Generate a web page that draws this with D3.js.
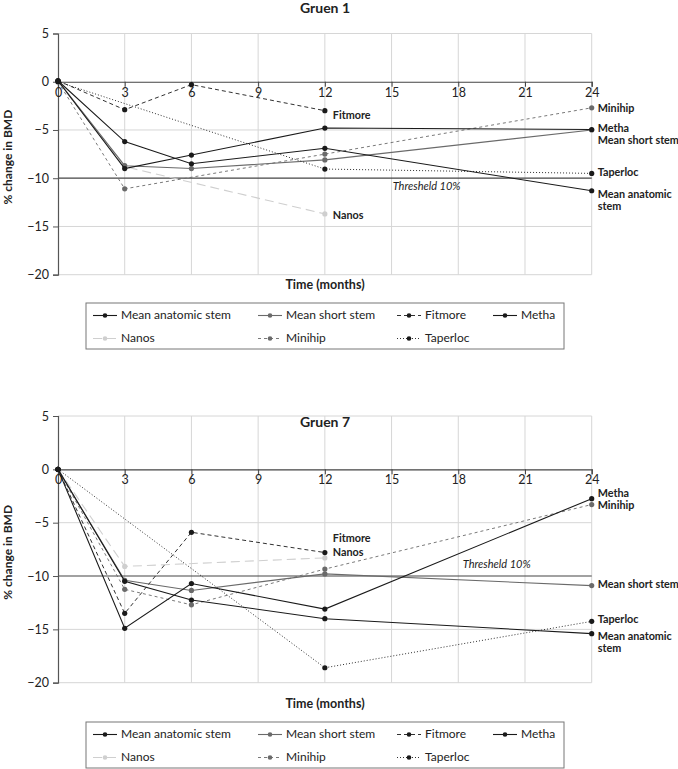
<!DOCTYPE html>
<html><head><meta charset="utf-8">
<script src="https://cdn.jsdelivr.net/npm/d3@7"></script>
<style>
body{margin:0;background:#fff;}
svg{display:block;font-family:Lato,"Noto Sans",sans-serif;}
</style></head><body>
<svg id="c" width="678" height="769"></svg>
<script>
// ---- data ----
const timepoints = [0, 3, 6, 12, 24];
const xTicks = [0, 3, 6, 9, 12, 15, 18, 21, 24];
const yTicks = [5, 0, -5, -10, -15, -20];
const seriesNames = ["Mean anatomic stem", "Mean short stem", "Fitmore", "Metha", "Nanos", "Minihip", "Taperloc"];
const threshold = -10;

// Gruen 1
const g1MeanAnatomic = [0.1, -6.2, -8.5, -6.9, -11.3];
const g1MeanShort    = [0.1, -8.7, -9.0, -8.1, -5.0];
const g1Fitmore      = [0.1, -2.9, -0.3, -3.0, null];
const g1Metha        = [0.1, -9.0, -7.6, -4.8, -4.95];
const g1Nanos        = [0, -8.8, null, -13.7, null];
const g1Minihip      = [0, -11.1, null, -7.5, -2.7];
const g1Taperloc     = [0, null, null, -9.05, -9.5];

// Gruen 7
const g7MeanAnatomic = [0, -10.5, -12.25, -14.0, -15.4];
const g7MeanShort    = [0, -10.4, -11.35, -9.8, -10.9];
const g7Fitmore      = [0, -13.5, -5.9, -7.8, null];
const g7Metha        = [0, -14.9, -10.7, -13.1, -2.75];
const g7Nanos        = [0, -9.1, null, -8.3, null];
const g7Minihip      = [0, -11.25, -12.7, -9.35, -3.3];
const g7Taperloc     = [0, null, null, -18.6, -14.25];

// ---- styles ----
const styles = {
  "Mean anatomic stem": {stroke:"#1a1a1a", dot:"#1a1a1a", dash:null, w:1.1},
  "Mean short stem":    {stroke:"#6a6a6a", dot:"#6a6a6a", dash:null, w:1.1},
  "Fitmore":            {stroke:"#1a1a1a", dot:"#1a1a1a", dash:"4,3", w:0.9},
  "Metha":              {stroke:"#1a1a1a", dot:"#1a1a1a", dash:null, w:1.1},
  "Nanos":              {stroke:"#cfcfcf", dot:"#cfcfcf", dash:"9,5", w:1.1},
  "Minihip":            {stroke:"#6a6a6a", dot:"#6a6a6a", dash:"3,3", w:0.9},
  "Taperloc":           {stroke:"#1a1a1a", dot:"#1a1a1a", dash:"1,2", w:0.9}
};
const drawOrder = ["Nanos", "Minihip", "Mean short stem", "Taperloc", "Fitmore", "Mean anatomic stem", "Metha"];

const svg = d3.select("#c");

function chart(cfg) {
  const x = d3.scaleLinear().domain([0, 24]).range([58, 591.7]);
  const y = d3.scaleLinear().domain([5, -20]).range([cfg.top, cfg.bottom]);
  const g = svg.append("g");

  // grid
  g.selectAll(".vg").data(xTicks.slice(1)).join("line")
    .attr("x1", d => x(d)).attr("x2", d => x(d))
    .attr("y1", y(5)).attr("y2", y(-20))
    .attr("stroke", "#d6d6d6").attr("stroke-width", 1);
  g.selectAll(".hg").data(yTicks.filter(d => d !== 0 && d !== threshold)).join("line")
    .attr("x1", x(0)).attr("x2", x(24))
    .attr("y1", d => y(d)).attr("y2", d => y(d))
    .attr("stroke", "#d6d6d6").attr("stroke-width", 1);

  // threshold line
  g.append("line").attr("x1", x(0)).attr("x2", x(24))
    .attr("y1", y(threshold)).attr("y2", y(threshold))
    .attr("stroke", "#444").attr("stroke-width", 1.2);
  g.append("text").attr("x", x(cfg.threshX)).attr("y", y(threshold) + cfg.threshDy)
    .attr("font-size", 11).attr("font-style", "italic").attr("fill", "#222")
    .text("Thresheld 10%");

  // y axis
  const ya = d3.axisLeft(y).tickValues(yTicks).tickSize(5)
    .tickFormat(d => d < 0 ? "\u2212" + Math.abs(d) : d);
  const yg = g.append("g").attr("transform", `translate(${x(0)},0)`).call(ya);
  yg.select(".domain").attr("stroke", "#555").attr("stroke-width", 1.2);
  yg.selectAll(".tick line").attr("stroke", "#555");
  yg.selectAll(".tick text").attr("font-size", 12.5).attr("fill", "#222")
    .attr("font-family", "Lato, sans-serif").attr("dx", -1);

  // x axis on zero line
  const xa = d3.axisBottom(x).tickValues(xTicks).tickSize(5).tickFormat(d => d);
  const xg = g.append("g").attr("transform", `translate(0,${y(0)})`).call(xa);
  xg.select(".domain").attr("stroke", "#444").attr("stroke-width", 1.2);
  xg.selectAll(".tick line").attr("stroke", "#444");
  xg.selectAll(".tick text").attr("font-size", 12.5).attr("fill", "#222")
    .attr("font-family", "Lato, sans-serif").attr("dy", "0.55em");

  // series
  const line = d3.line().defined(d => d.v !== null).x(d => x(d.t)).y(d => y(d.v));
  drawOrder.forEach(name => {
    const vals = cfg.data[name];
    const pts = timepoints.map((t, i) => ({t, v: vals[i]})).filter(d => d.v !== null);
    const s = styles[name];
    g.append("path").datum(pts).attr("d", line)
      .attr("fill", "none").attr("stroke", s.stroke).attr("stroke-width", s.w)
      .attr("stroke-dasharray", s.dash);
    g.selectAll(null).data(pts).join("circle")
      .attr("cx", d => x(d.t)).attr("cy", d => y(d.v)).attr("r", 2.6)
      .attr("fill", s.dot);
  });

  // end labels
  cfg.labels.forEach(lb => {
    const vals = cfg.data[lb.series];
    const idx = lb.at;
    const t = g.append("text")
      .attr("x", x(timepoints[idx]) + lb.dx)
      .attr("y", y(vals[idx]) + lb.dy)
      .attr("font-size", 10.8).attr("font-weight", 700).attr("fill", "#222")
      .attr("dominant-baseline", "middle");
    lb.lines.forEach((txt, i) => t.append("tspan").attr("x", x(timepoints[idx]) + lb.dx)
      .attr("dy", i === 0 ? 0 : 12).text(txt));
  });

  // titles
  g.append("text").attr("x", cfg.titleX).attr("y", cfg.titleY)
    .attr("text-anchor", "middle").attr("font-size", 14).attr("font-weight", 700)
    .attr("fill", "#222").attr("dominant-baseline", "middle").text(cfg.title);
  g.append("text").attr("transform", `translate(9,${(y(5) + y(-20)) / 2 + 3}) rotate(-90)`)
    .attr("text-anchor", "middle").attr("font-size", 12).attr("font-weight", 700)
    .attr("fill", "#222").attr("dominant-baseline", "middle").text("% change in BMD");
  g.append("text").attr("x", 325).attr("y", cfg.xTitleY)
    .attr("text-anchor", "middle").attr("font-size", 12.5).attr("font-weight", 700)
    .attr("fill", "#222").attr("dominant-baseline", "middle").text("Time (months)");

  // legend
  const lg = g.append("g");
  lg.append("rect").attr("x", 86).attr("y", cfg.legendY).attr("width", 478).attr("height", 46)
    .attr("fill", "#fff").attr("stroke", "#777").attr("stroke-width", 1);
  const colX = [93, 258, 397, 493];
  seriesNames.forEach((name, i) => {
    const row = i < 4 ? 0 : 1;
    const col = i < 4 ? i : i - 4;
    const lx = colX[col];
    const ly = cfg.legendY + 12.5 + row * 23;
    const s = styles[name];
    lg.append("line").attr("x1", lx).attr("x2", lx + 24).attr("y1", ly).attr("y2", ly)
      .attr("stroke", s.stroke).attr("stroke-width", s.w).attr("stroke-dasharray", s.dash);
    lg.append("circle").attr("cx", lx + 12).attr("cy", ly).attr("r", 2.3).attr("fill", s.dot);
    lg.append("text").attr("x", lx + 28).attr("y", ly).attr("dominant-baseline", "middle")
      .attr("font-size", 12).attr("fill", "#222").text(name);
  });
}

function pack(a, b, c, d, e, f, h) {
  return {"Mean anatomic stem": a, "Mean short stem": b, "Fitmore": c, "Metha": d,
          "Nanos": e, "Minihip": f, "Taperloc": h};
}

chart({
  top: 33.5, bottom: 274.7, title: "Gruen 1", titleX: 325, titleY: 9,
  xTitleY: 286, legendY: 303, threshX: 15.05, threshDy: 12,
  data: pack(g1MeanAnatomic, g1MeanShort, g1Fitmore, g1Metha, g1Nanos, g1Minihip, g1Taperloc),
  labels: [
    {series: "Fitmore", at: 3, dx: 8, dy: 5, lines: ["Fitmore"]},
    {series: "Nanos", at: 3, dx: 8, dy: 2, lines: ["Nanos"]},
    {series: "Minihip", at: 4, dx: 6, dy: 1, lines: ["Minihip"]},
    {series: "Mean short stem", at: 4, dx: 6, dy: -1, lines: ["Metha", "Mean short stem"]},
    {series: "Taperloc", at: 4, dx: 6, dy: 0, lines: ["Taperloc"]},
    {series: "Mean anatomic stem", at: 4, dx: 6, dy: 4, lines: ["Mean anatomic", "stem"]}
  ]
});

chart({
  top: 416, bottom: 682.7, title: "Gruen 7", titleX: 325, titleY: 423,
  xTitleY: 705, legendY: 722, threshX: 18.2, threshDy: -8,
  data: pack(g7MeanAnatomic, g7MeanShort, g7Fitmore, g7Metha, g7Nanos, g7Minihip, g7Taperloc),
  labels: [
    {series: "Fitmore", at: 3, dx: 8, dy: -14, lines: ["Fitmore"]},
    {series: "Nanos", at: 3, dx: 8, dy: -5, lines: ["Nanos"]},
    {series: "Metha", at: 4, dx: 6, dy: -4.5, lines: ["Metha"]},
    {series: "Minihip", at: 4, dx: 6, dy: 1.5, lines: ["Minihip"]},
    {series: "Mean short stem", at: 4, dx: 6, dy: -1, lines: ["Mean short stem"]},
    {series: "Taperloc", at: 4, dx: 6, dy: -1, lines: ["Taperloc"]},
    {series: "Mean anatomic stem", at: 4, dx: 6, dy: 3, lines: ["Mean anatomic", "stem"]}
  ]
});
</script></body></html>
